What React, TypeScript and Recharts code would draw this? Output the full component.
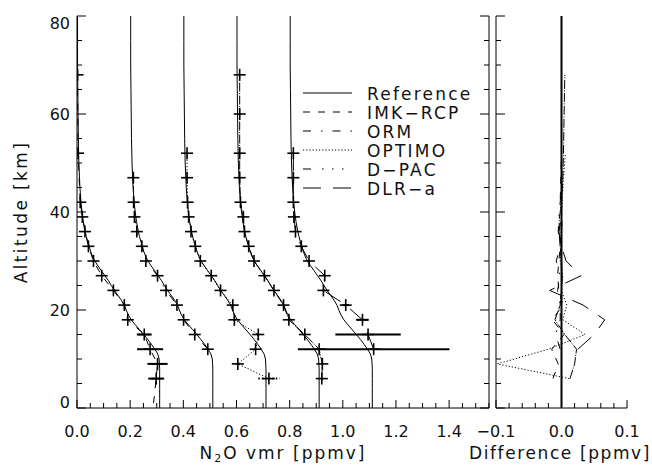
import React from "react";
import { ComposedChart, Line, Scatter, XAxis, YAxis, ErrorBar, Legend } from "recharts";

const FONT = "'DejaVu Sans', 'Liberation Sans', sans-serif";

// reference N2O profile, offset removed
const REF_ALT = [0, 2, 4, 6, 8, 9, 10, 11, 12, 13, 14, 15, 16, 17, 18, 19, 20, 21, 22, 23, 24, 25, 26, 27, 28, 29, 30, 31, 32, 33, 34, 35, 36, 38, 40, 42, 45, 50, 55, 60, 65, 70, 75, 80];
const REF_VMR = [0.311, 0.311, 0.311, 0.311, 0.311, 0.310, 0.309, 0.304, 0.293, 0.280, 0.266, 0.251, 0.235, 0.219, 0.204, 0.193, 0.185, 0.178, 0.167, 0.154, 0.141, 0.129, 0.118, 0.105, 0.092, 0.079, 0.067, 0.058, 0.051, 0.046, 0.040, 0.035, 0.031, 0.024, 0.019, 0.015, 0.011, 0.007, 0.005, 0.004, 0.003, 0.002, 0.002, 0.002];

// each profile is shifted by 0.2 ppmv
const OFFSETS = [0, 0.2, 0.4, 0.6, 0.8];

// IMK-RCP (first point is line only)
const IMK_ALT = [1, 6, 9, 12, 15, 18, 21, 24, 27, 30, 33, 36, 39, 42, 52, 68];
const IMK_VMR = [0.288, 0.298, 0.303, 0.275, 0.253, 0.191, 0.178, 0.137, 0.093, 0.062, 0.043, 0.030, 0.020, 0.012, 0.004, 0.002];
const IMK_ERR = [null, 0.030, 0.038, 0.049, 0.028, 0.004, 0.003, 0.003, 0.002, 0.002, 0.001, 0.001, 0.001, 0.001, 0.001, 0.001];
const IMK_DIFF = [null, -0.013, -0.005, -0.015, 0.004, -0.014, 0.002, -0.004, -0.006, -0.004, -0.002, 0.0, 0.001, -0.002, 0.0, 0.0];

// ORM
const ORM_ALT = [12, 15, 18, 21, 24, 27, 30, 33, 36, 39, 42, 47];
const ORM_VMR = [0.292, 0.243, 0.201, 0.176, 0.135, 0.103, 0.059, 0.044, 0.025, 0.016, 0.013, 0.012];
const ORM_ERR = [0.004, 0.003, 0.003, 0.002, 0.002, 0.002, 0.001, 0.001, 0.001, 0.001, 0.001, 0.001];
const ORM_DIFF = [-0.002, -0.009, -0.002, -0.002, -0.006, -0.002, -0.008, -0.002, -0.005, -0.004, -0.002, 0.001];

// OPTIMO
const OPT_ALT = [6, 9, 12, 15, 18, 21, 24, 27, 30, 33, 36, 39, 42, 47, 52];
const OPT_VMR = [0.322, 0.205, 0.272, 0.282, 0.192, 0.186, 0.140, 0.105, 0.064, 0.045, 0.029, 0.020, 0.016, 0.014, 0.014];
const OPT_ERR = [0.040, 0.006, 0.005, 0.005, 0.004, 0.003, 0.003, 0.002, 0.002, 0.001, 0.001, 0.001, 0.001, 0.001, 0.001];
const OPT_DIFF = [0.012, -0.098, -0.020, 0.036, 0.002, 0.008, 0.0, 0.002, -0.002, 0.0, -0.001, 0.0, 0.001, 0.003, 0.006];

// D-PAC
const DPAC_ALT = [6, 9, 12, 15, 18, 21, 24, 27, 30, 33, 36, 39, 42, 47, 52, 60, 68];
const DPAC_VMR = [0.321, 0.323, 0.311, 0.257, 0.197, 0.177, 0.141, 0.105, 0.066, 0.046, 0.030, 0.026, 0.015, 0.012, 0.012, 0.012, 0.012];
const DPAC_ERR = [0.004, 0.004, 0.004, 0.003, 0.003, 0.002, 0.002, 0.002, 0.001, 0.001, 0.001, 0.001, 0.001, 0.001, 0.001, 0.001, 0.001];
const DPAC_DIFF = [0.013, 0.020, 0.023, 0.005, -0.010, -0.002, 0.0, 0.001, 0.0, -0.002, -0.004, -0.003, 0.0, 0.002, 0.003, 0.004, 0.005];

// DLR-a
const DLR_ALT = [12, 15, 18, 21, 24, 27, 30, 33, 36, 39, 42, 47, 52];
const DLR_VMR = [0.316, 0.295, 0.274, 0.211, 0.127, 0.132, 0.073, 0.044, 0.022, 0.016, 0.014, 0.014, 0.014];
const DLR_ERR = [0.285, 0.123, 0.023, 0.012, 0.004, 0.003, 0.002, 0.002, 0.001, 0.001, 0.001, 0.001, 0.001];
const DLR_DIFF = [0.025, 0.050, 0.066, 0.033, -0.018, 0.030, 0.007, 0.0, -0.004, 0.0, 0.0, 0.0, 0.0];

const X_TICKS = [0, 0.05, 0.1, 0.15, 0.2, 0.25, 0.3, 0.35, 0.4, 0.45, 0.5, 0.55, 0.6, 0.65, 0.7, 0.75, 0.8, 0.85, 0.9, 0.95, 1.0, 1.05, 1.1, 1.15, 1.2, 1.25, 1.3, 1.35, 1.4, 1.45, 1.5, 1.55];
const X_LABELS = [0, 0.2, 0.4, 0.6, 0.8, 1.0, 1.2, 1.4];
const DX_TICKS = [-0.1, -0.08, -0.06, -0.04, -0.02, 0, 0.02, 0.04, 0.06, 0.08, 0.1];
const DX_LABELS = [-0.1, 0, 0.1];
const Y_TICKS = [0, 5, 10, 15, 20, 25, 30, 35, 40, 45, 50, 55, 60, 65, 70, 75, 80];
const Y_LABELS = [0, 20, 40, 60, 80];

const SERIES = [
  { name: "IMK−RCP", alt: IMK_ALT, vmr: IMK_VMR, err: IMK_ERR, diff: IMK_DIFF, dash: "7 8", legendDash: "7 8" },
  { name: "ORM", alt: ORM_ALT, vmr: ORM_VMR, err: ORM_ERR, diff: ORM_DIFF, dash: "8 10 1.5 10", legendDash: "8 10 1.5 10" },
  { name: "OPTIMO", alt: OPT_ALT, vmr: OPT_VMR, err: OPT_ERR, diff: OPT_DIFF, dash: "1.2 2", legendDash: "1.2 2" },
  { name: "D−PAC", alt: DPAC_ALT, vmr: DPAC_VMR, err: DPAC_ERR, diff: DPAC_DIFF, dash: "9 1.5 1 1.5", legendDash: "8 11 1.5 8.5 1.5 8.5 1.5 8.5" },
  { name: "DLR−a", alt: DLR_ALT, vmr: DLR_VMR, err: DLR_ERR, diff: DLR_DIFF, dash: "18 12", legendDash: "18 12" },
];

const near = (v: number, list: number[]) => list.some((l) => Math.abs(l - v) < 1e-6);
const fmt = (v: number) => (v < 0 ? "\u2212" + Math.abs(v).toFixed(1) : v.toFixed(1));

function BottomTick({ x, y, payload, labels }: any) {
  const major = near(payload.value, labels);
  return (
    <g>
      <line x1={x} x2={x} y1={y} y2={y - (major ? 8 : 5)} stroke="#000" />
      {major && (
        <text x={x} y={y + 29} textAnchor="middle" fontSize={16} fontFamily={FONT} fill="#111">
          {fmt(payload.value)}
        </text>
      )}
    </g>
  );
}

function SideTick({ x, y, payload, dir, showLabel }: any) {
  const major = near(payload.value, Y_LABELS);
  const cy = Math.min(Math.max(y, 23), 402);
  return (
    <g>
      <line x1={x} x2={x + dir * (major ? 9 : 5)} y1={y} y2={y} stroke="#000" />
      {showLabel && major && (
        <text x={x - 7} y={cy + 6} textAnchor="end" fontSize={16} fontFamily={FONT} fill="#111">
          {payload.value}
        </text>
      )}
    </g>
  );
}

function Cross({ cx, cy }: any) {
  if (cx == null || cy == null) return null;
  return (
    <g stroke="#000" strokeWidth={1.6}>
      <line x1={cx - 6} x2={cx + 6} y1={cy} y2={cy} />
      <line x1={cx} x2={cx} y1={cy - 6} y2={cy + 6} />
    </g>
  );
}

function LegendBox() {
  const rows = [{ name: "Reference", dash: undefined as string | undefined }].concat(
    SERIES.map((s) => ({ name: s.name, dash: s.legendDash }))
  );
  return (
    <svg width={190} height={120}>
      {rows.map((r, i) => (
        <g key={r.name}>
          <line x1={3} x2={52} y1={13 + i * 19} y2={13 + i * 19} stroke="#000" strokeDasharray={r.dash} />
          <text x={67} y={13 + i * 19 + 6.5} fontSize={17} fontFamily={FONT} letterSpacing={2.2} fill="#111">
            {r.name}
          </text>
        </g>
      ))}
    </svg>
  );
}

const refLine = (off: number) => REF_ALT.map((a, i) => ({ x: REF_VMR[i] + off, y: a }));

export default function App() {
  return (
    <div style={{ position: "absolute", left: 0, top: 0, width: 652, height: 467, background: "#fff" }}>
      <div style={{ position: "absolute", left: 0, top: 0 }}>
        <ComposedChart width={652} height={467} margin={{ top: 16, right: 143, bottom: 29, left: 47 }}>
          <XAxis
            type="number" dataKey="x" domain={[0, 1.55]} allowDataOverflow ticks={X_TICKS} interval={0}
            height={30} tickSize={0} tickMargin={0} tickLine={false} axisLine={{ stroke: "#000" }}
            tick={<BottomTick labels={X_LABELS} />}
            label={{
              content: () => (
                <text x={283} y={459} textAnchor="middle" fontSize={17} fontFamily={FONT} letterSpacing={2} fill="#111">
                  N<tspan fontSize={11} dy={3}>2</tspan><tspan dy={-3}>O vmr [ppmv]</tspan>
                </text>
              ),
            }}
          />
          <YAxis
            type="number" dataKey="y" domain={[0, 80]} allowDataOverflow ticks={Y_TICKS} interval={0}
            width={30} tickSize={0} tickMargin={0} tickLine={false} axisLine={{ stroke: "#000" }}
            tick={<SideTick dir={1} showLabel />}
            label={{
              content: () => (
                <text x={27} y={212} transform="rotate(-90 27 212)" textAnchor="middle" fontSize={17} fontFamily={FONT} letterSpacing={2.4} fill="#111">
                  Altitude [km]
                </text>
              ),
            }}
          />
          <YAxis
            yAxisId="r" orientation="right" type="number" domain={[0, 80]} allowDataOverflow ticks={Y_TICKS} interval={0}
            width={20} tickSize={0} tickMargin={0} tickLine={false} axisLine={{ stroke: "#000" }}
            tick={<SideTick dir={-1} />}
          />
          {OFFSETS.map((off, k) => (
            <Line key={"ref" + k} data={refLine(off)} dataKey="y" stroke="#000" strokeWidth={1} dot={false} isAnimationActive={false} />
          ))}
          {SERIES.map((s, k) => (
            <Line
              key={"ret" + k}
              data={s.alt.map((a, i) => ({ x: s.vmr[i] + OFFSETS[k], y: a }))}
              dataKey="y" stroke="#000" strokeWidth={1} strokeDasharray={s.dash} dot={false} isAnimationActive={false}
            />
          ))}
          {SERIES.map((s, k) => (
            <Scatter
              key={"pts" + k}
              data={s.alt
                .map((a, i) => ({ x: s.vmr[i] + OFFSETS[k], y: a, err: s.err[i] }))
                .filter((d) => d.err !== null)}
              shape={<Cross />}
              isAnimationActive={false}
            >
              <ErrorBar dataKey="err" direction="x" width={0} stroke="#000" strokeWidth={2} strokeDasharray={k === 2 ? "1.5 2" : undefined} />
            </Scatter>
          ))}
          <Legend
            layout="vertical" align="center" verticalAlign="middle"
            wrapperStyle={{ left: 300, top: 80, width: 190, height: 120 }}
            content={() => <LegendBox />}
          />
        </ComposedChart>
      </div>
      <div style={{ position: "absolute", left: 0, top: 0 }}>
        <ComposedChart width={652} height={467} margin={{ top: 16, right: 25, bottom: 29, left: 466 }}>
          <XAxis
            type="number" dataKey="x" domain={[-0.1, 0.1]} allowDataOverflow ticks={DX_TICKS} interval={0}
            height={30} tickSize={0} tickMargin={0} tickLine={false} axisLine={{ stroke: "#000" }}
            tick={<BottomTick labels={DX_LABELS} />}
            label={{
              content: () => (
                <text x={560} y={459} textAnchor="middle" fontSize={17} fontFamily={FONT} letterSpacing={1.6} fill="#111">
                  Difference [ppmv]
                </text>
              ),
            }}
          />
          <YAxis
            type="number" dataKey="y" domain={[0, 80]} allowDataOverflow ticks={Y_TICKS} interval={0}
            width={30} tickSize={0} tickMargin={0} tickLine={false} axisLine={{ stroke: "#000" }}
            tick={<SideTick dir={1} />}
          />
          <Line data={REF_ALT.map((a) => ({ x: 0, y: a }))} dataKey="y" stroke="#000" strokeWidth={2} dot={false} isAnimationActive={false} />
          {SERIES.map((s, k) => (
            <Line
              key={"diff" + k}
              data={s.alt.map((a, i) => ({ x: s.diff[i], y: a })).filter((d) => d.x !== null)}
              dataKey="y" stroke="#000" strokeWidth={1} strokeDasharray={s.dash} dot={false} isAnimationActive={false}
            />
          ))}
        </ComposedChart>
      </div>
    </div>
  );
}
